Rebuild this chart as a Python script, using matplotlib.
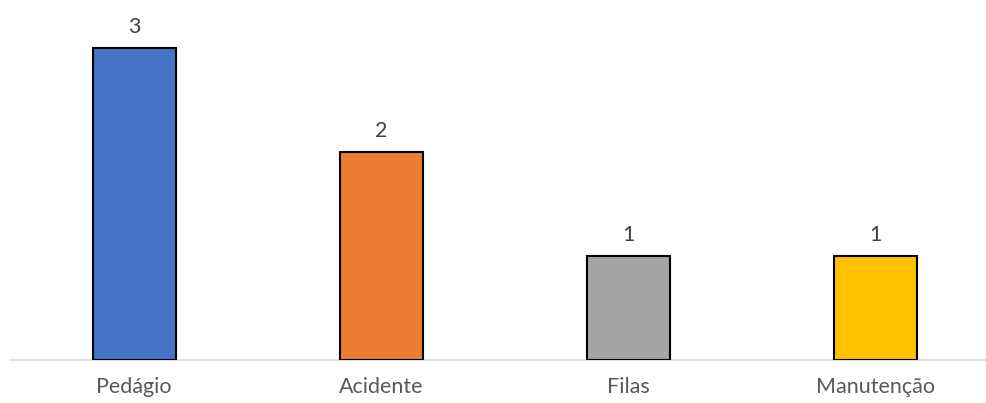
import matplotlib.pyplot as plt

categories = ['Pedágio', 'Acidente', 'Filas', 'Manutenção']
values = [3, 2, 1, 1]
colors = ['#4472C4', '#ED7D31', '#A5A5A5', '#FFC000']

plt.rcParams['font.family'] = ['Lato', 'DejaVu Sans']

fig = plt.figure(figsize=(9.86, 4.03), dpi=100)
ax = fig.add_axes([10 / 986, 1 - 360 / 403, 976 / 986, 360 / 403])

x = range(len(categories))
bars = ax.bar(x, values, width=0.336, color=colors, edgecolor='black', linewidth=1.5, zorder=3)
for b, v in zip(bars, values):
    ax.annotate(str(v), (b.get_x() + b.get_width() / 2, v), xytext=(0, 8),
                textcoords='offset points', ha='center', va='bottom',
                fontsize=15.5, color='#404040')

ax.set_xlim(-0.502, 3.449)
ax.set_ylim(0, 3.46)
ax.set_xticks(list(x))
ax.set_xticklabels(categories, fontsize=15.5, color='#595959')
ax.tick_params(axis='x', length=0, pad=12)
ax.set_yticks([])
for s in ['top', 'right', 'left']:
    ax.spines[s].set_visible(False)
ax.spines['bottom'].set_color('#D9D9D9')
ax.spines['bottom'].set_linewidth(1.2)

fig.savefig('out.png', dpi=100)
